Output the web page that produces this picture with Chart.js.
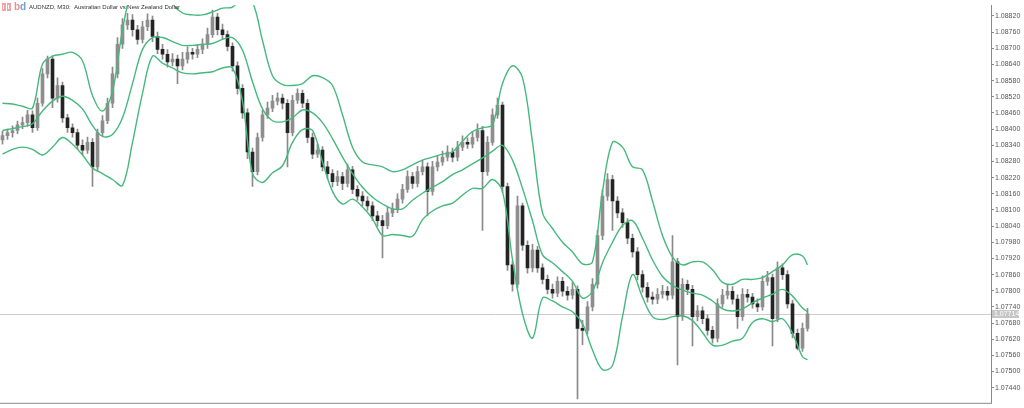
<!DOCTYPE html>
<html>
<head>
<meta charset="utf-8">
<title>AUDNZD M30</title>
<script src="https://cdn.jsdelivr.net/npm/chart.js@4.4.1/dist/chart.umd.min.js"></script>
<style>
  html, body { margin: 0; padding: 0; background: #fff; }
  #wrap { width: 1024px; height: 408px; }
</style>
</head>
<body>
<div id="wrap"><canvas id="priceChart" width="1024" height="408"></canvas></div>
<script>
// chart header
const symbolTitle = 'AUDNZD, M30:  Australian Dollar vs New Zealand Dollar';

// price scale labels (right axis)
const priceTicks = [1.07440, 1.07500, 1.07560, 1.07620, 1.07680, 1.07740, 1.07800, 1.07860,
    1.07920, 1.07980, 1.08040, 1.08100, 1.08160, 1.08220, 1.08280, 1.08340, 1.08400, 1.08460,
    1.08520, 1.08580, 1.08640, 1.08700, 1.08760, 1.08820];

// M30 candles, oldest first
const openPrices = [
    1.08360,1.08376,1.08387,1.08395,1.08416,1.08424,1.08453,1.08405,1.08496,1.08605,
    1.08660,1.08515,1.08562,1.08442,1.08405,1.08387,1.08340,1.08322,1.08351,1.08260,
    1.08387,1.08431,1.08496,1.08605,1.08715,1.08787,1.08805,1.08769,1.08733,1.08780,
    1.08805,1.08744,1.08696,1.08678,1.08649,1.08660,1.08635,1.08660,1.08685,1.08678,
    1.08696,1.08715,1.08751,1.08816,1.08769,1.08751,1.08707,1.08635,1.08551,1.08460,
    1.08315,1.08242,1.08369,1.08453,1.08478,1.08504,1.08515,1.08496,1.08387,1.08507,
    1.08533,1.08496,1.08369,1.08307,1.08322,1.08260,1.08235,1.08205,1.08224,1.08198,
    1.08249,1.08176,1.08151,1.08133,1.08115,1.08078,1.08060,1.08042,1.08089,1.08104,
    1.08140,1.08176,1.08224,1.08198,1.08242,1.08260,1.08169,1.08260,1.08278,1.08296,
    1.08315,1.08296,1.08333,1.08351,1.08344,1.08369,1.08395,1.08242,1.08351,1.08453,
    1.08489,1.08187,1.07896,1.07824,1.08115,1.07969,1.07885,1.07951,1.07885,1.07842,
    1.07805,1.07791,1.07835,1.07798,1.07784,1.07805,1.07660,1.07653,1.07740,1.07824,
    1.08005,1.08151,1.08213,1.08133,1.08089,1.08053,1.07995,1.07944,1.07860,1.07813,
    1.07776,1.07769,1.07787,1.07798,1.07784,1.07907,1.07704,1.07824,1.07805,1.07704,
    1.07725,1.07696,1.07653,1.07624,1.07751,1.07784,1.07798,1.07769,1.07704,1.07787,
    1.07776,1.07751,1.07740,1.07835,1.07849,1.07696,1.07885,1.07860,1.07751,1.07642,
    1.07587,1.07660];
const highPrices = [
    1.08392,1.08400,1.08412,1.08430,1.08445,1.08470,1.08468,1.08515,1.08625,1.08671,
    1.08672,1.08590,1.08575,1.08455,1.08420,1.08400,1.08360,1.08370,1.08365,1.08400,
    1.08450,1.08515,1.08630,1.08740,1.08810,1.08830,1.08825,1.08785,1.08800,1.08828,
    1.08820,1.08760,1.08715,1.08695,1.08680,1.08675,1.08685,1.08705,1.08700,1.08715,
    1.08735,1.08775,1.08842,1.08830,1.08790,1.08765,1.08720,1.08650,1.08565,1.08475,
    1.08330,1.08385,1.08470,1.08500,1.08525,1.08535,1.08530,1.08510,1.08525,1.08550,
    1.08545,1.08510,1.08385,1.08345,1.08335,1.08280,1.08250,1.08245,1.08240,1.08270,
    1.08262,1.08190,1.08168,1.08150,1.08130,1.08095,1.08080,1.08110,1.08125,1.08160,
    1.08195,1.08245,1.08240,1.08262,1.08285,1.08275,1.08280,1.08300,1.08318,1.08338,
    1.08330,1.08355,1.08375,1.08368,1.08392,1.08420,1.08410,1.08372,1.08475,1.08515,
    1.08500,1.08200,1.07910,1.08151,1.08125,1.07985,1.07972,1.07965,1.07900,1.07858,
    1.07825,1.07852,1.07850,1.07815,1.07830,1.07818,1.07690,1.07760,1.07845,1.08025,
    1.08175,1.08235,1.08228,1.08150,1.08105,1.08068,1.08010,1.07960,1.07875,1.07830,
    1.07795,1.07808,1.07820,1.07815,1.08005,1.07920,1.07845,1.07840,1.07820,1.07745,
    1.07740,1.07710,1.07668,1.07770,1.07805,1.07820,1.07815,1.07785,1.07808,1.07805,
    1.07790,1.07770,1.07855,1.07872,1.07862,1.07907,1.07900,1.07875,1.07765,1.07658,
    1.07680,1.07735];
const lowPrices = [
    1.08344,1.08362,1.08370,1.08383,1.08402,1.08410,1.08388,1.08395,1.08485,1.08590,
    1.08480,1.08500,1.08425,1.08388,1.08370,1.08325,1.08305,1.08310,1.08187,1.08245,
    1.08375,1.08420,1.08480,1.08590,1.08700,1.08770,1.08745,1.08715,1.08720,1.08765,
    1.08725,1.08680,1.08660,1.08630,1.08635,1.08569,1.08620,1.08645,1.08660,1.08665,
    1.08680,1.08700,1.08740,1.08750,1.08735,1.08690,1.08615,1.08530,1.08440,1.08290,
    1.08187,1.08230,1.08355,1.08440,1.08465,1.08490,1.08475,1.08260,1.08375,1.08495,
    1.08480,1.08350,1.08290,1.08295,1.08245,1.08215,1.08185,1.08190,1.08175,1.08185,
    1.08160,1.08135,1.08115,1.08098,1.08060,1.08040,1.07922,1.08030,1.08075,1.08090,
    1.08125,1.08165,1.08180,1.08185,1.08230,1.08078,1.08155,1.08245,1.08265,1.08282,
    1.08278,1.08282,1.08320,1.08328,1.08330,1.08355,1.08024,1.08228,1.08340,1.08440,
    1.08165,1.07875,1.07798,1.07810,1.07950,1.07865,1.07870,1.07868,1.07825,1.07788,
    1.07772,1.07778,1.07780,1.07765,1.07770,1.07398,1.07600,1.07640,1.07725,1.07810,
    1.07990,1.08135,1.08024,1.08070,1.08035,1.07975,1.07925,1.07840,1.07795,1.07758,
    1.07750,1.07752,1.07772,1.07765,1.07770,1.07525,1.07690,1.07785,1.07595,1.07688,
    1.07678,1.07635,1.07605,1.07610,1.07738,1.07770,1.07750,1.07660,1.07690,1.07758,
    1.07735,1.07722,1.07728,1.07820,1.07595,1.07685,1.07842,1.07735,1.07625,1.07580,
    1.07575,1.07650];
const closePrices = [
    1.08376,1.08387,1.08395,1.08416,1.08424,1.08453,1.08405,1.08496,1.08605,1.08660,
    1.08515,1.08562,1.08442,1.08405,1.08387,1.08340,1.08322,1.08351,1.08260,1.08387,
    1.08431,1.08496,1.08605,1.08715,1.08787,1.08805,1.08769,1.08733,1.08780,1.08805,
    1.08744,1.08696,1.08678,1.08649,1.08660,1.08635,1.08660,1.08685,1.08678,1.08696,
    1.08715,1.08751,1.08816,1.08769,1.08751,1.08707,1.08635,1.08551,1.08460,1.08315,
    1.08242,1.08369,1.08453,1.08478,1.08504,1.08515,1.08496,1.08387,1.08507,1.08533,
    1.08496,1.08369,1.08307,1.08322,1.08260,1.08235,1.08205,1.08224,1.08198,1.08249,
    1.08176,1.08151,1.08133,1.08115,1.08078,1.08060,1.08042,1.08089,1.08104,1.08140,
    1.08176,1.08224,1.08198,1.08242,1.08260,1.08169,1.08260,1.08278,1.08296,1.08315,
    1.08296,1.08333,1.08351,1.08344,1.08369,1.08395,1.08242,1.08351,1.08453,1.08489,
    1.08187,1.07896,1.07824,1.08115,1.07969,1.07885,1.07951,1.07885,1.07842,1.07805,
    1.07791,1.07835,1.07798,1.07784,1.07805,1.07660,1.07653,1.07740,1.07824,1.08005,
    1.08151,1.08213,1.08133,1.08089,1.08053,1.07995,1.07944,1.07860,1.07813,1.07776,
    1.07769,1.07787,1.07798,1.07784,1.07907,1.07704,1.07824,1.07805,1.07704,1.07725,
    1.07696,1.07653,1.07624,1.07751,1.07784,1.07798,1.07769,1.07704,1.07787,1.07776,
    1.07751,1.07740,1.07835,1.07849,1.07696,1.07885,1.07860,1.07751,1.07642,1.07587,
    1.07660,1.07714];

// Bollinger bands, sampled every second bar (bar numbers below)
const bandBars = [0,2,4,6,8,10,12,14,16,18, 20,22,24,26,28,30,32,34,36,38,
    40,42,44,46,48,50,52,54,56,58, 60,62,64,66,68,70,72,74,76,78,
    80,82,84,86,88,90,92,94,96,98, 100,102,104,106,108,110,112,114,116,118,
    120,122,124,126,128,130,132,134,136,138, 140,142,144,146,148,150,152,154,156,158,
    160,161];
const bbUpper = [
    1.08496,1.08493,1.08485,1.08478,1.08642,1.08671,1.08678,1.08685,1.08653,1.08525,
    1.08467,1.08540,1.08769,1.08933,1.08998,1.09005,1.08962,1.08867,1.08831,1.08824,
    1.08824,1.08835,1.08849,1.08853,1.08889,1.08871,1.08729,1.08598,1.08565,1.08562,
    1.08569,1.08598,1.08591,1.08562,1.08453,1.08333,1.08278,1.08267,1.08260,1.08242,
    1.08249,1.08267,1.08285,1.08296,1.08307,1.08315,1.08355,1.08391,1.08405,1.08416,
    1.08569,1.08635,1.08591,1.08351,1.08089,1.08031,1.07980,1.07944,1.07900,1.07907,
    1.08169,1.08351,1.08333,1.08260,1.08249,1.08133,1.08005,1.07925,1.07896,1.07907,
    1.07907,1.07878,1.07831,1.07824,1.07842,1.07842,1.07849,1.07871,1.07896,1.07933,
    1.07929,1.07896];
const bbMiddle = [
    1.08395,1.08402,1.08409,1.08420,1.08467,1.08504,1.08522,1.08507,1.08475,1.08413,
    1.08373,1.08380,1.08442,1.08569,1.08696,1.08740,1.08740,1.08725,1.08711,1.08711,
    1.08715,1.08718,1.08733,1.08740,1.08693,1.08576,1.08475,1.08431,1.08427,1.08442,
    1.08471,1.08460,1.08424,1.08365,1.08296,1.08235,1.08184,1.08147,1.08122,1.08104,
    1.08104,1.08136,1.08162,1.08184,1.08205,1.08231,1.08249,1.08271,1.08293,1.08318,
    1.08340,1.08285,1.08180,1.08060,1.07933,1.07904,1.07871,1.07835,1.07773,1.07798,
    1.07904,1.07980,1.08042,1.08060,1.07995,1.07915,1.07853,1.07820,1.07802,1.07791,
    1.07784,1.07762,1.07733,1.07725,1.07733,1.07755,1.07773,1.07787,1.07805,1.07780,
    1.07736,1.07722];
const bbLower = [
    1.08307,1.08325,1.08333,1.08325,1.08304,1.08333,1.08369,1.08344,1.08304,1.08256,
    1.08235,1.08213,1.08191,1.08351,1.08533,1.08671,1.08645,1.08627,1.08609,1.08605,
    1.08609,1.08613,1.08627,1.08627,1.08504,1.08235,1.08202,1.08238,1.08264,1.08351,
    1.08398,1.08395,1.08278,1.08169,1.08122,1.08140,1.08111,1.08067,1.08005,1.08009,
    1.08005,1.08002,1.08064,1.08096,1.08115,1.08125,1.08155,1.08180,1.08180,1.08213,
    1.08169,1.07915,1.07715,1.07624,1.07773,1.07762,1.07740,1.07722,1.07678,1.07580,
    1.07507,1.07522,1.07704,1.07860,1.07776,1.07704,1.07693,1.07704,1.07707,1.07689,
    1.07645,1.07598,1.07598,1.07613,1.07624,1.07682,1.07696,1.07685,1.07696,1.07642,
    1.07555,1.07544];

const lastPrice = closePrices[closePrices.length - 1];

function bandPoints(values) {
    return values.map((v, i) => ({ x: bandBars[i], y: v }));
}

const candleBodies = closePrices.map((c, i) => ({ x: i, y: [openPrices[i], c] }));
const candleWicks = closePrices.map((c, i) => ({ x: i, y: [lowPrices[i], highPrices[i]] }));
const bodyColors = closePrices.map((c, i) => c >= openPrices[i] ? '#8e8e8e' : '#242424');

const bandStyle = {
    type: 'line',
    borderColor: '#45b97c',
    borderWidth: 1.4,
    pointRadius: 0,
    tension: 0.35,
    fill: false,
    order: 0
};

// terminal style extras: current price line, price tag, header
const terminalOverlay = {
    id: 'terminalOverlay',
    beforeDatasetsDraw(chart) {
        const { ctx, chartArea, scales } = chart;
        const y = Math.round(scales.y.getPixelForValue(lastPrice)) + 0.5;
        ctx.save();
        ctx.strokeStyle = '#cccccc';
        ctx.lineWidth = 1;
        ctx.beginPath();
        ctx.moveTo(chartArea.left, y);
        ctx.lineTo(chartArea.right, y);
        ctx.stroke();
        ctx.restore();
    },
    afterDraw(chart) {
        const { ctx, chartArea, scales } = chart;
        ctx.save();

        // bottom frame
        ctx.strokeStyle = '#8a8a8a';
        ctx.lineWidth = 1;
        ctx.beginPath();
        ctx.moveTo(chartArea.left, chartArea.bottom + 0.5);
        ctx.lineTo(chartArea.right + 1, chartArea.bottom + 0.5);
        ctx.stroke();

        // current price tag
        const y = Math.round(scales.y.getPixelForValue(lastPrice));
        ctx.fillStyle = '#c6c6c6';
        ctx.fillRect(chartArea.right + 1, y - 4, 27, 8);
        ctx.fillStyle = '#ffffff';
        ctx.font = '7px "Liberation Sans"';
        ctx.textBaseline = 'middle';
        ctx.fillText(lastPrice.toFixed(5), chartArea.right + 3, y + 0.5);

        // one click trading icons
        ctx.fillStyle = '#f2a3a3';
        ctx.fillRect(2, 3, 4, 8);
        ctx.fillRect(7, 3, 4, 8);
        ctx.fillStyle = '#ffffff';
        ctx.fillRect(3, 5, 1, 4);
        ctx.fillRect(8, 5, 1, 4);
        ctx.font = 'bold 10px "Liberation Sans"';
        ctx.fillStyle = '#ee8f8f';
        ctx.fillText('b', 14, 7.5);
        ctx.fillStyle = '#6f9fdc';
        ctx.fillText('d', 20, 7.5);

        // title, squeezed to the reference width
        ctx.fillStyle = '#333333';
        ctx.font = '7px "Liberation Sans"';
        const w = ctx.measureText(symbolTitle).width;
        const size = 7 * 151 / w;
        ctx.font = size.toFixed(2) + 'px "Liberation Sans"';
        ctx.fillText(symbolTitle, 29, 7.5);
        ctx.restore();
    }
};

const ctx = document.getElementById('priceChart').getContext('2d');
const priceChart = new Chart(ctx, {
    type: 'bar',
    data: {
        datasets: [
            Object.assign({ label: 'Upper', data: bandPoints(bbUpper) }, bandStyle),
            Object.assign({ label: 'Middle', data: bandPoints(bbMiddle) }, bandStyle),
            Object.assign({ label: 'Lower', data: bandPoints(bbLower) }, bandStyle),
            {
                label: 'Body',
                data: candleBodies,
                backgroundColor: bodyColors,
                barThickness: 3,
                minBarLength: 1,
                grouped: false,
                order: 1
            },
            {
                label: 'Wick',
                data: candleWicks,
                backgroundColor: '#8a8a8a',
                barThickness: 1,
                grouped: false,
                order: 2
            }
        ]
    },
    options: {
        responsive: false,
        devicePixelRatio: 1,
        animation: false,
        layout: { padding: { left: 0, top: 0, right: 0, bottom: 2 } },
        plugins: {
            legend: { display: false },
            tooltip: { enabled: false }
        },
        scales: {
            x: {
                type: 'linear',
                display: false,
                offset: false,
                min: -0.5,
                max: 197.7
            },
            y: {
                position: 'right',
                min: 1.07384,
                max: 1.08860,
                afterBuildTicks: scale => {
                    scale.ticks = priceTicks.map(v => ({ value: v }));
                },
                afterFit: scale => {
                    scale.width = 33;
                },
                border: { display: true, color: '#8a8a8a', width: 1 },
                grid: { drawOnChartArea: false, drawTicks: true, tickLength: 3, color: '#8a8a8a' },
                ticks: {
                    autoSkip: false,
                    padding: 1,
                    color: '#555555',
                    font: { family: 'Liberation Sans', size: 7 },
                    callback: v => Number(v).toFixed(5)
                }
            }
        }
    },
    plugins: [terminalOverlay]
});
</script>
</body>
</html>
